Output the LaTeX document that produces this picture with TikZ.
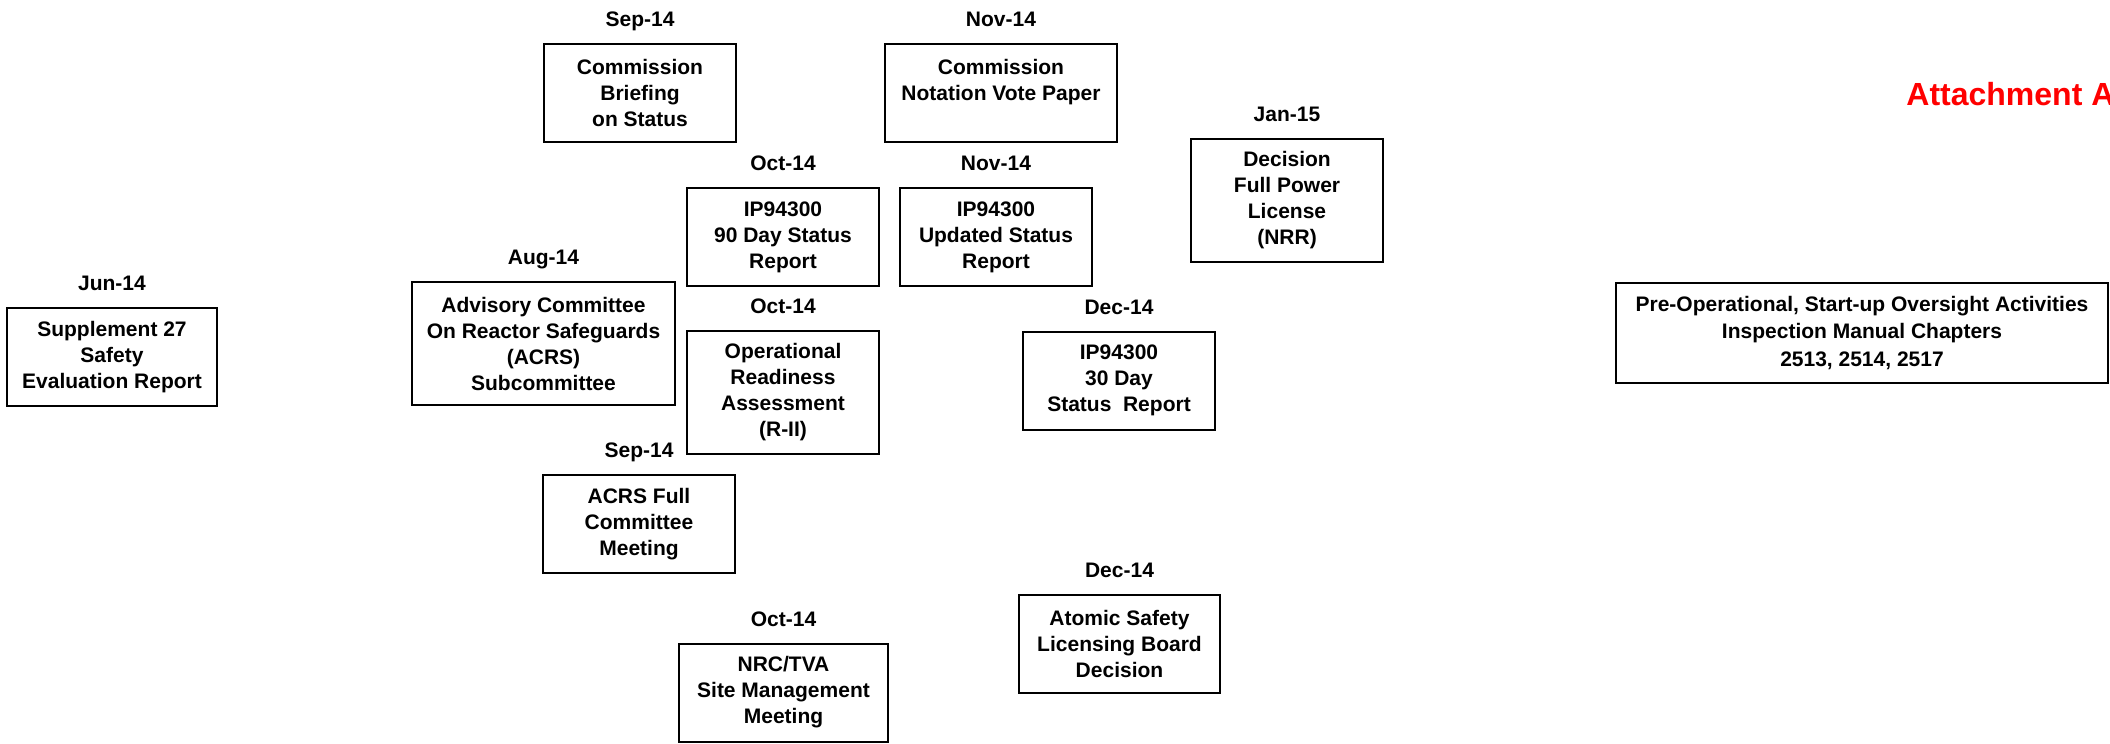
\documentclass[tikz,border=0pt]{standalone}
\usepackage{fontspec}
\setmainfont{Liberation Sans}
\usetikzlibrary{positioning}

\tikzset{
  evbox/.style={draw, line width=1pt, align=center, inner sep=0pt,
    minimum width=96pt, minimum height=49pt,
    font=\bfseries\fontsize{10.5}{13}\selectfont},
  tallbox/.style={evbox, minimum height=61.5pt},
  datelbl/.style={inner sep=0pt, text height=7.5pt, text depth=0pt,
    font=\bfseries\fontsize{10.5}{13}\selectfont},
}

\begin{document}
\begin{tikzpicture}[x=0.5pt, y=-0.5pt]
    \useasboundingbox (0,0) rectangle (2110,744);

    % safety evaluation, far left
    \node[evbox, minimum width=105pt] (ser) at (112,357) {Supplement 27\\Safety\\Evaluation Report};
    \node[datelbl, above=8pt of ser] (dser) {Jun-14};

    % ACRS column
    \node[tallbox, minimum width=131.5pt] (acrssub) at (543.5,343.5) {Advisory Committee\\On Reactor Safeguards\\(ACRS)\\Subcommittee};
    \node[datelbl, above=8pt of acrssub] (dacrssub) {Aug-14};
    \node[evbox] (brief) at (640,92.5) {Commission\\Briefing\\on Status};
    \node[datelbl, above=8pt of brief] (dbrief) {Sep-14};
    \node[evbox] (acrsfull) at (639,524) {ACRS Full\\Committee\\Meeting};
    \node[datelbl, above=8pt of acrsfull] (dacrsfull) {Sep-14};

    % October
    \node[evbox] (ip90) at (783,237) {IP94300\\90 Day Status\\Report};
    \node[datelbl, above=8pt of ip90] (dip90) {Oct-14};
    \node[tallbox] (ora) at (783,392) {Operational\\Readiness\\Assessment\\(R-II)};
    \node[datelbl, above=8pt of ora] (dora) {Oct-14};
    \node[evbox, minimum width=104.5pt] (nrctva) at (783.5,692.5) {NRC/TVA\\Site Management\\Meeting};
    \node[datelbl, above=8pt of nrctva] (dnrctva) {Oct-14};

    % November
    \node[evbox, minimum width=116pt] (vote) at (1001,92.5) {Commission\\Notation Vote Paper\\\phantom{Status}};
    \node[datelbl, above=8pt of vote] (dvote) {Nov-14};
    \node[evbox] (ipupd) at (996,237) {IP94300\\Updated Status\\Report};
    \node[datelbl, above=8pt of ipupd] (dipupd) {Nov-14};

    % December
    \node[evbox] (ip30) at (1119,380.5) {IP94300\\30 Day\\Status\ \ Report};
    \node[datelbl, above=8pt of ip30] (dip30) {Dec-14};
    \node[evbox, minimum width=100.5pt] (aslb) at (1119.5,644) {Atomic Safety\\Licensing Board\\Decision};
    \node[datelbl, above=8pt of aslb] (daslb) {Dec-14};

    % January
    \node[tallbox] (fpl) at (1287,200) {Decision\\Full Power\\License\\(NRR)};
    \node[datelbl, above=8pt of fpl] (dfpl) {Jan-15};

    % oversight box and heading
    \node[evbox, minimum width=246pt, minimum height=50pt,
      font=\bfseries\fontsize{10.5}{13.75}\selectfont] (preop) at (1862,333)
      {Pre-Operational, Start-up Oversight Activities\\Inspection Manual Chapters\\2513, 2514, 2517};
    \node[anchor=base west, inner sep=0pt, text=red,
      font=\bfseries\fontsize{16}{19}\selectfont] (att) at (1906,105) {Attachment A};
\end{tikzpicture}
\end{document}
